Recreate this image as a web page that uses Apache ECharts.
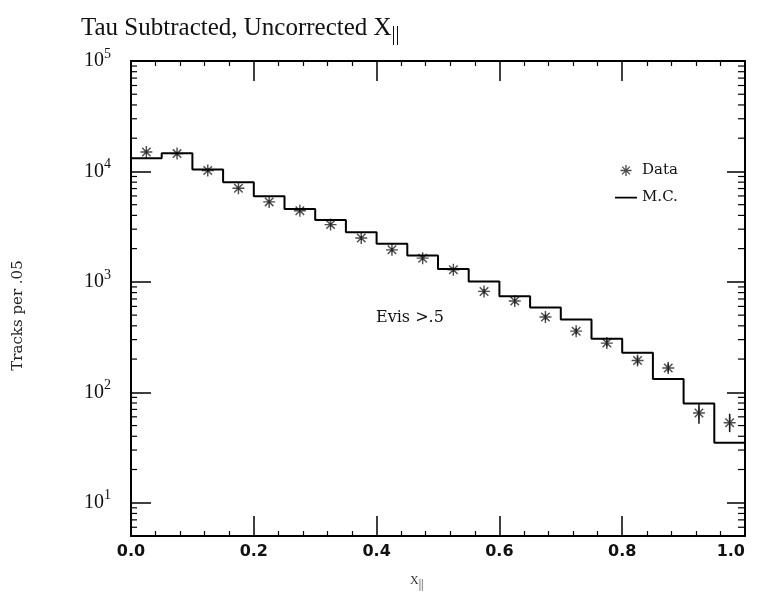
<!DOCTYPE html>
<html>
<head>
<meta charset="utf-8">
<script src="https://cdn.jsdelivr.net/npm/echarts@6/dist/echarts.min.js"></script>
<style>html,body{margin:0;padding:0;background:#fff}#c{width:757px;height:592px}</style>
</head>
<body>
<div id="c"></div>
<script>
// ---- data ----
const binCenters = [0.025,0.075,0.125,0.175,0.225,0.275,0.325,0.375,0.425,0.475,0.525,0.575,0.625,0.675,0.725,0.775,0.825,0.875,0.925,0.975];
const binWidth = 0.05;
const mcValues = [13150,14600,10400,7980,5950,4580,3640,2820,2210,1730,1310,1010,743,585,456,305,228,132,79,35];
const dataValues = [15000,14500,10200,7050,5300,4400,3300,2500,1950,1640,1290,820,670,480,358,279,194,166,65,53];
const errLow  = [14500,14000,9900,6850,5150,4250,3180,2400,1870,1570,1230,780,635,452,335,260,178,152,52,43.6];
const errHigh = [15500,15000,10500,7250,5450,4550,3420,2600,2030,1710,1350,860,705,508,381,298,212,182,79,64];

// ---- derived ----
const mcSteps = binCenters.map((c,i)=>[c - binWidth/2, mcValues[i]]);
mcSteps.push([binCenters[binCenters.length-1] + binWidth/2, mcValues[mcValues.length-1]]);
const dataPts = binCenters.map((c,i)=>[c, dataValues[i]]);
const errPts = binCenters.map((c,i)=>[c, errLow[i], errHigh[i]]);
const minorVals = [];
for (let e = 0; e <= 4; e++) for (let m = 2; m <= 9; m++) { const v = m*Math.pow(10,e); if (v >= 5 && v <= 1e5) minorVals.push([0, v]); }

const asterisk = 'path://M-0.6,-5L0.6,-5L0.6,5L-0.6,5Z M-5,-0.6L5,-0.6L5,0.6L-5,0.6Z M-3.96,-3.11L-3.11,-3.96L3.96,3.11L3.11,3.96Z M3.11,-3.96L3.96,-3.11L-3.11,3.96L-3.96,3.11Z';
const lineIcon = 'path://M0,0L0.01,0L0.01,0.01Z M0,4.8L22,4.8L22,6.4L0,6.4Z M0,11L0.01,11L0.01,10.99Z';

const serif = '"Liberation Serif", "DejaVu Serif", serif';
const wideSerif = '"DejaVu Serif", serif';
const sans = '"DejaVu Sans", "Liberation Sans", sans-serif';

const chart = echarts.init(document.getElementById('c'), null, {renderer:'canvas'});
const yLabelFmt = v => {
  const e = Math.round(Math.log10(v));
  if (Math.abs(Math.pow(10,e) - v) > 1e-6*v) return '';
  return '{b|10}{e|' + e + '}';
};
const tickStyle = { color: '#000', width: 1.5 };
chart.setOption({
  animation: false,
  backgroundColor: '#fff',
  title: [
    { text: '{m|Tau Subtracted, Uncorrected X}{s|||}', left: 76, top: 6,
      textStyle: { rich: {
        m: { fontFamily: serif, fontSize: 25, fontWeight: 'normal', color: '#111' },
        s: { fontFamily: serif, fontSize: 20, fontWeight: 'normal', color: '#111', padding: [14,0,0,0] } } } },
    { text: 'Evis >.5', left: 371, top: 305, textStyle: { fontFamily: wideSerif, fontSize: 16, fontWeight: 'normal', color: '#111' } },
    { text: '{m|X}{s|||}', left: 405, top: 566,
      textStyle: { rich: {
        m: { fontFamily: serif, fontSize: 12, fontWeight: 'normal', color: '#333' },
        s: { fontFamily: serif, fontSize: 12, fontWeight: 'normal', color: '#333', padding: [8,0,0,0] } } } }
  ],
  legend: {
    orient: 'vertical', left: 610, top: 158, itemWidth: 22, itemHeight: 11, itemGap: 12,
    data: [ { name: 'Data', icon: asterisk }, { name: 'M.C.', icon: lineIcon } ],
    textStyle: { fontFamily: wideSerif, fontSize: 15, color: '#111' }
  },
  grid: { left: 131, right: 12, top: 61, bottom: 56, outerBoundsMode: 'none', containLabel: false },
  xAxis: [
    { type: 'value', min: 0, max: 1, interval: 0.2, position: 'bottom',
      axisLine: { onZero: false, lineStyle: { color: '#000', width: 2 } },
      axisTick: { inside: true, length: 20, lineStyle: tickStyle },
      minorTick: { show: true, splitNumber: 5, length: 5, lineStyle: { color: '#000', width: 1.2 } },
      splitLine: { show: false },
      axisLabel: { formatter: v => v.toFixed(1), margin: 8, fontFamily: sans, fontSize: 16, fontWeight: 'bold', color: '#111', alignMaxLabel: 'right' } },
    { type: 'value', min: 0, max: 1, interval: 0.2, position: 'top',
      axisLine: { onZero: false, lineStyle: { color: '#000', width: 2 } },
      axisTick: { inside: true, length: 20, lineStyle: tickStyle },
      minorTick: { show: true, splitNumber: 5, length: 5, lineStyle: { color: '#000', width: 1.2 } },
      splitLine: { show: false }, axisLabel: { show: false } }
  ],
  yAxis: [
    { type: 'log', logBase: 10, min: 5, max: 100000, position: 'left',
      name: 'Tracks per .05', nameLocation: 'middle', nameGap: 105,
      nameTextStyle: { fontFamily: wideSerif, fontSize: 15, color: '#222', padding: [0,34,0,0] },
      axisLine: { onZero: false, lineStyle: { color: '#000', width: 2 } },
      axisTick: { inside: true, length: 20, lineStyle: tickStyle },
      splitLine: { show: false },
      axisLabel: { formatter: yLabelFmt, margin: 20, rich: {
        b: { fontFamily: serif, fontSize: 20, color: '#111' },
        e: { fontFamily: serif, fontSize: 14, color: '#111', padding: [0,0,14,0] } } } },
    { type: 'log', logBase: 10, min: 5, max: 100000, position: 'right',
      axisLine: { onZero: false, lineStyle: { color: '#000', width: 2 } },
      axisTick: { inside: true, length: 18, lineStyle: tickStyle },
      splitLine: { show: false }, axisLabel: { show: false } }
  ],
  series: [
    { name: 'M.C.', type: 'line', step: 'end', data: mcSteps, symbol: 'none',
      lineStyle: { color: '#000', width: 2 }, itemStyle: { color: '#000' } },
    { name: 'Data', type: 'scatter', data: dataPts, symbol: asterisk, symbolSize: 12,
      itemStyle: { color: '#222' } },
    { name: 'err', type: 'custom', data: errPts, encode: { x: 0, y: [1,2] }, silent: true,
      renderItem: (params, api) => {
        const x = api.value(0);
        const a = api.coord([x, api.value(1)]);
        const b = api.coord([x, api.value(2)]);
        return { type: 'line', shape: { x1: a[0], y1: a[1], x2: b[0], y2: b[1] }, style: { stroke: '#111', lineWidth: 1.5 } };
      } },
    { name: 'minor', type: 'custom', data: minorVals, encode: { x: 0, y: 1 }, silent: true,
      renderItem: (params, api) => {
        const v = api.value(1);
        const p0 = api.coord([0, v]);
        const p1 = api.coord([1, v]);
        return { type: 'group', children: [
          { type: 'line', shape: { x1: p0[0], y1: p0[1], x2: p0[0] + 6, y2: p0[1] }, style: { stroke: '#000', lineWidth: 1.2 } },
          { type: 'line', shape: { x1: p1[0] - 7, y1: p1[1], x2: p1[0], y2: p1[1] }, style: { stroke: '#000', lineWidth: 1.2 } }
        ] };
      } }
  ]
});
</script>
</body>
</html>
